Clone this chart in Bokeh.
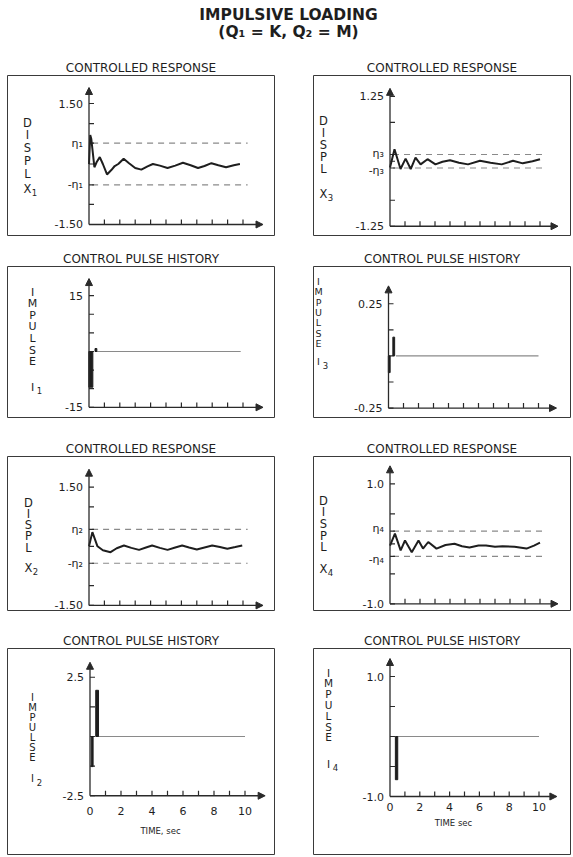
from bokeh.plotting import figure
from bokeh.layouts import column, row
from bokeh.models import Range1d, Arrow, NormalHead
from bokeh.core.properties import value
from bokeh.embed import file_html
from bokeh.resources import INLINE

# ---------------- data ----------------
main_title = "IMPULSIVE LOADING"
sub_title = "(Q\u2081 = K, Q\u2082 = M)"
resp_title = "CONTROLLED RESPONSE"
pulse_title = "CONTROL PULSE HISTORY"
time_label_left = "TIME, sec"
time_label_right = "TIME sec"
x_label_pos = [0, 2, 4, 6, 8, 10]
x_label_txt = ["0", "2", "4", "6", "8", "10"]
x_minor = [1, 2, 3, 4, 5, 6, 7, 8, 9, 10]

# displacement x1
t_x1 = [0.0, 0.08, 0.15, 0.35, 0.5, 0.7, 0.9, 1.17, 1.45, 1.67, 1.9, 2.25, 2.6, 3.0, 3.4,
        3.8, 4.15, 4.6, 5.1, 5.6, 6.1, 6.6, 7.08, 7.5, 7.95, 8.4, 8.9, 9.4, 9.8]
x1 = [0.0, 0.72, 0.62, -0.08, 0.05, 0.17, 0.0, -0.26, -0.15, -0.05, 0.0, 0.13, 0.02, -0.1, -0.14,
      -0.06, 0.0, -0.04, -0.1, -0.04, 0.03, -0.03, -0.1, -0.05, 0.02, -0.03, -0.08, -0.03, 0.0]
eta1 = 0.52
x1_ticks = [-1.5, -1.0, 0.0, 1.0, 1.5]

# displacement x3
t_x3 = [0.0, 0.3, 0.7, 1.04, 1.38, 1.7, 2.04, 2.5, 3.03, 3.5, 4.0, 4.6, 5.2, 6.0, 6.7,
        7.45, 8.2, 8.85, 9.5, 10.0]
x3 = [-0.12, 0.23, -0.15, 0.05, -0.15, 0.07, -0.06, 0.04, -0.06, -0.01, 0.02, -0.03, -0.06,
      0.01, -0.03, -0.06, 0.01, -0.04, 0.0, 0.04]
eta3 = 0.13
x3_ticks = [-1.25, -0.75, 0.0, 0.75, 1.25]

# displacement x2
t_x2 = [0.0, 0.22, 0.55, 0.9, 1.4, 1.8, 2.27, 2.75, 3.25, 3.7, 4.1, 4.6, 5.1, 5.6, 6.05,
        6.5, 7.0, 7.5, 8.0, 8.5, 8.98, 9.5, 9.95]
x2 = [0.0, 0.36, 0.0, -0.1, -0.15, -0.05, 0.02, -0.04, -0.09, -0.03, 0.02, -0.04, -0.09,
      -0.03, 0.02, -0.03, -0.08, -0.03, 0.02, -0.02, -0.06, -0.02, 0.02]
eta2 = 0.43
x2_ticks = [-1.5, -1.0, 0.0, 1.0, 1.5]

# displacement x4
t_x4 = [0.0, 0.33, 0.71, 1.0, 1.45, 1.9, 2.2, 2.55, 3.1, 3.7, 4.3, 4.8, 5.3, 5.9, 6.4,
        7.0, 7.5, 8.3, 9.1, 9.6, 10.0]
x4 = [-0.03, 0.17, -0.11, 0.055, -0.14, 0.055, -0.08, 0.03, -0.08, -0.02, 0.0, -0.04,
      -0.06, -0.03, -0.03, -0.05, -0.04, -0.05, -0.08, -0.03, 0.02]
eta4 = 0.21
x4_ticks = [-1.0, -0.5, 0.0, 0.5, 1.0]

# impulses
t_i1 = [0.12, 0.45]
i1 = [-9.6, 0.8]
i1_rest = [0.45, 9.85]
i1_ticks = [-15, -10, -5, 0, 5, 10, 15]

t_i3 = [0.05, 0.35]
i3 = [-0.08, 0.09]
i3_rest = [0.5, 10.0]
i3_ticks = [-0.25, -0.125, 0.0, 0.125, 0.25]

t_i2 = [0.14, 0.46]
i2 = [-1.27, 1.95]
i2_rest = [0.46, 10.0]
i2_ticks = [-2.5, -1.25, 0.0, 1.25, 2.5]

t_i4 = [0.44]
i4 = [-0.72]
i4_rest = [0.44, 10.0]
i4_ticks = [-1.0, -0.5, 0.0, 0.5, 1.0]

# ---------------- styling ----------------
FONT = "DejaVu Sans"
INK = "#1e1e1e"
AX = "#2a2a2a"
GRAY = "#8a8a8a"


def make_panel(title, frame, box, xz, xs, yz, ys):
    fl, fr, ft, fb = frame
    gl, gr, gt, gb = box
    p = figure(width=gr - gl, height=gb - gt, output_backend="svg", toolbar_location=None,
               x_axis_location=None, y_axis_location=None,
               x_range=Range1d((fl - xz) / xs, (fr - xz) / xs),
               y_range=Range1d((yz - fb) / ys, (yz - ft) / ys),
               min_border_left=fl - gl, min_border_right=gr - fr,
               min_border_top=ft - gt, min_border_bottom=gb - fb,
               title=title)
    p.grid.visible = False
    p.outline_line_color = "#3a3a3a"
    p.outline_line_width = 1
    p.title.align = "center"
    p.title.text_font = FONT
    p.title.text_font_size = "12px"
    p.title.text_font_style = "normal"
    p.title.text_color = INK
    p.title.standoff = 1
    X = lambda px: (px - xz) / xs
    Y = lambda py: (yz - py) / ys
    return p, X, Y, 1.0 / xs, 1.0 / ys


def txt(p, xs_, ys_, texts, size, align="center", baseline="middle", style="normal"):
    p.text(x=xs_, y=ys_, text=texts, text_font=value(FONT), text_font_size=value(size),
           text_align=value(align), text_baseline=value(baseline),
           text_font_style=value(style), text_color=INK)


def axes(p, dx, dy, yticks, lab_vals, lab_txt, xend=11.3, top_ext=16):
    ymin, ymax = min(yticks), max(yticks)
    head = dict(size=7, fill_color=AX, line_color=AX)
    p.add_layout(Arrow(end=NormalHead(**head), x_start=0, y_start=ymin, x_end=0,
                       y_end=ymax + top_ext * dy, line_color=AX, line_width=1.3))
    p.add_layout(Arrow(end=NormalHead(**head), x_start=0, y_start=ymin, x_end=xend,
                       y_end=ymin, line_color=AX, line_width=1.3))
    p.segment(x0=[0] * len(yticks), y0=yticks, x1=[5 * dx] * len(yticks), y1=yticks,
              line_color=AX, line_width=1.2)
    p.segment(x0=x_minor, y0=[ymin] * len(x_minor), x1=x_minor,
              y1=[ymin + 5 * dy] * len(x_minor), line_color=AX, line_width=1.2)
    txt(p, [-6 * dx] * len(lab_vals), lab_vals, lab_txt, "11px", align="right")


def stacked(p, X, Y, letters, px, py0, step, last, sub, last_py, size="11.5px"):
    txt(p, [X(px)] * len(letters), [Y(py0 + i * step) for i in range(len(letters))],
        list(letters), size)
    txt(p, [X(px)], [Y(last_py)], [last], size)
    txt(p, [X(px + 7)], [Y(last_py + 4)], [sub], "8.5px")


def eta_lines(p, eta):
    p.segment(x0=[0.2, 0.2], y0=[eta, -eta], x1=[10.3, 10.3], y1=[eta, -eta],
              line_color=GRAY, line_width=1.2, line_dash="6 5")


# ---- header ----
hdr = figure(width=572, height=56, output_backend="svg", toolbar_location=None,
             x_axis_location=None, y_axis_location=None,
             x_range=Range1d(0, 572), y_range=Range1d(56, 0),
             min_border=0)
hdr.grid.visible = False
hdr.outline_line_color = None
txt(hdr, [288], [14], [main_title], "15.5px", style="bold")
txt(hdr, [288], [31], [sub_title], "15.5px", style="bold")

L_FIG = (0, 290)
R_FIG = (290, 572)
LF = (7, 274)
RF = (313, 570)

# ---- row 1 ----
p1, X, Y, dx, dy = make_panel(resp_title, LF + (75, 235), L_FIG + (56, 236),
                              88.5, 15.4, 163.5, 40.33)
eta_lines(p1, eta1)
axes(p1, dx, dy, x1_ticks + [eta1, -eta1], [1.5, eta1, -eta1, -1.5],
     ["1.50", "\u03b7\u2081", "-\u03b7\u2081", "-1.50"])
p1.line(t_x1, x1, line_color=INK, line_width=2)
stacked(p1, X, Y, "DISPL", 27, 122, 12.8, "X", "1", 188)

p2, X, Y, dx, dy = make_panel(resp_title, RF + (74, 235), R_FIG + (56, 236),
                              389.5, 15.0, 160.3, 52.3)
eta_lines(p2, eta3)
axes(p2, dx, dy, x3_ticks + [eta3, -eta3], [1.25, eta3 + 0.02, -eta3 - 0.04, -1.25],
     ["1.25", "\u03b7\u2083", "-\u03b7\u2083", "-1.25"], xend=11.2, top_ext=8)
p2.line(t_x3, x3, line_color=INK, line_width=2)
stacked(p2, X, Y, "DISPL", 323, 120, 12.0, "X", "3", 193)

# ---- row 2 ----
p3, X, Y, dx, dy = make_panel(pulse_title, LF + (266, 425), L_FIG + (236, 426),
                              88.5, 15.4, 355.5, 3.92)
axes(p3, dx, dy, i1_ticks, [15, -15], ["15", "-15"], top_ext=18)
p3.line(i1_rest, [0, 0], line_color=GRAY, line_width=1.2)
p3.vbar(x=t_i1, top=i1, bottom=0, width=[0.26, 0.12], fill_color=INK, line_color=INK)
stacked(p3, X, Y, "IMPULSE", 32, 293, 12.2, "I", "1", 393, size="11px")

p4, X, Y, dx, dy = make_panel(pulse_title, RF + (265, 417), R_FIG + (236, 426),
                              388.0, 15.0, 355.0, 210.0)
axes(p4, dx, dy, i3_ticks, [0.25, -0.25], ["0.25", "-0.25"], xend=11.2, top_ext=18)
p4.line(i3_rest, [0, 0], line_color=GRAY, line_width=1.2)
p4.vbar(x=t_i3, top=i3, bottom=0, width=0.12, fill_color=INK, line_color=INK)
stacked(p4, X, Y, "IMPULSE", 318, 280, 10.4, "I", "3", 361, size="9.5px")

# ---- row 3 ----
p5, X, Y, dx, dy = make_panel(resp_title, LF + (456, 610), L_FIG + (426, 611),
                              88.5, 15.4, 545.8, 39.4)
eta_lines(p5, eta2)
axes(p5, dx, dy, x2_ticks + [eta2, -eta2], [1.5, eta2, -eta2, -1.5],
     ["1.50", "\u03b7\u2082", "-\u03b7\u2082", "-1.50"], top_ext=18)
p5.line(t_x2, x2, line_color=INK, line_width=2)
stacked(p5, X, Y, "DISPL", 28, 502, 11.3, "X", "2", 567)

p6, X, Y, dx, dy = make_panel(resp_title, RF + (456, 610), R_FIG + (426, 611),
                              389.5, 15.0, 543.3, 60.0)
eta_lines(p6, eta4)
axes(p6, dx, dy, x4_ticks + [eta4, -eta4], [1.0, eta4 + 0.05, -eta4 - 0.05, -1.0],
     ["1.0", "\u03b7\u2084", "-\u03b7\u2084", "-1.0"], xend=11.2, top_ext=18)
p6.line(t_x4, x4, line_color=INK, line_width=2)
stacked(p6, X, Y, "DISPL", 323, 500, 11.7, "X", "4", 568)

# ---- row 4 ----
p7, X, Y, dx, dy = make_panel(pulse_title, LF + (648, 854), L_FIG + (611, 856),
                              89.5, 15.5, 736.0, 23.7)
axes(p7, dx, dy, i2_ticks, [2.5, -2.5], ["2.5", "-2.5"], top_ext=15)
p7.line(i2_rest, [0, 0], line_color=GRAY, line_width=1.2)
p7.vbar(x=t_i2, top=i2, bottom=0, width=[0.12, 0.18], fill_color=INK, line_color=INK)
stacked(p7, X, Y, "IMPULSE", 32, 697, 10.0, "I", "2", 778, size="10px")
txt(p7, x_label_pos, [Y(810)] * len(x_label_pos), x_label_txt, "11px")
txt(p7, [X(160)], [Y(830)], [time_label_left], "8.5px")

p8, X, Y, dx, dy = make_panel(pulse_title, RF + (648, 854), R_FIG + (611, 856),
                              389.5, 14.9, 736.0, 60.0)
axes(p8, dx, dy, i4_ticks, [1.0, -1.0], ["1.0", "-1.0"], xend=11.2, top_ext=18)
p8.line(i4_rest, [0, 0], line_color=GRAY, line_width=1.2)
p8.vbar(x=t_i4, top=i4, bottom=0, width=0.16, fill_color=INK, line_color=INK)
stacked(p8, X, Y, "IMPULSE", 328, 672, 10.8, "I", "4", 763, size="10.5px")
txt(p8, x_label_pos, [Y(806)] * len(x_label_pos), x_label_txt, "11px")
txt(p8, [X(453)], [Y(822)], [time_label_right], "8.5px")

layout = column(hdr, row(p1, p2), row(p3, p4), row(p5, p6), row(p7, p8))
open("out.html", "w").write(file_html(layout, INLINE, "Impulsive loading"))
